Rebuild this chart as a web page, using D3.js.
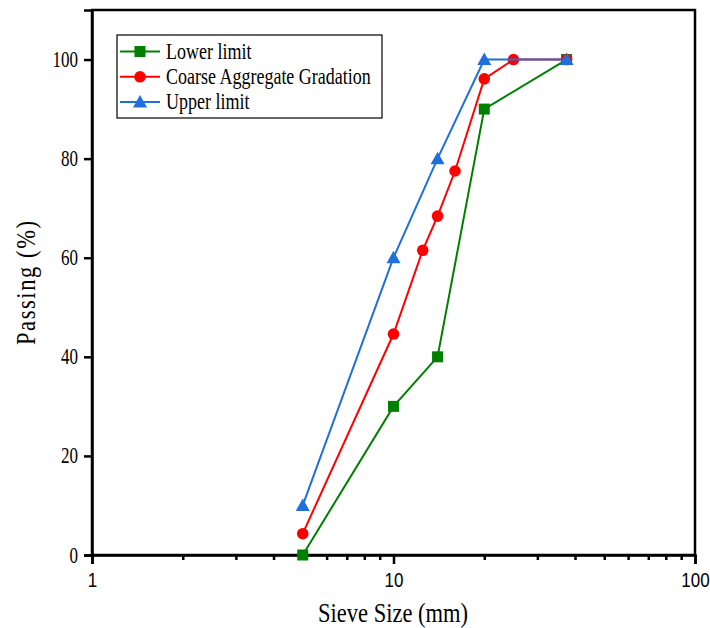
<!DOCTYPE html>
<html>
<head>
<meta charset="utf-8">
<script src="https://cdn.jsdelivr.net/npm/d3@7"></script>
<style>
  body { margin: 0; background: #fff; }
  svg text { font-family: "Liberation Serif", "Times New Roman", serif; }
</style>
</head>
<body>
<script>
// data
var lowerSizes = [5, 10, 14, 20, 37.5];
var lowerPass  = [0, 30, 40, 90, 100];
var coarseSizes = [5, 10, 12.5, 14, 16, 20, 25, 37.5];
var coarsePass  = [4.3, 44.6, 61.5, 68.4, 77.5, 96.1, 100, 100];
var upperSizes = [5, 10, 14, 20, 37.5];
var upperPass  = [10, 60, 80, 100, 100];
var xTicks = [1, 10, 100];
var yTicks = [0, 20, 40, 60, 80, 100];

var series = [
  {name: 'Lower limit', color: '#008000', shape: 'square', x: lowerSizes, y: lowerPass},
  {name: 'Coarse Aggregate Gradation', color: '#ff0000', shape: 'circle', x: coarseSizes, y: coarsePass},
  {name: 'Upper limit', color: '#1f6fdc', shape: 'triangle', x: upperSizes, y: upperPass}
];

var W = 710, H = 628;
var pLeft = 92, pRight = 695, pTop = 10, pBottom = 555;

var svg = d3.select('body').append('svg')
  .attr('width', W).attr('height', H);

var xScale = d3.scaleLog().domain([1, 100]).range([pLeft, pRight]);
var yScale = d3.scaleLinear().domain([0, 110]).range([pBottom, pTop]);

// frame
svg.append('rect')
  .attr('x', pLeft).attr('y', pTop)
  .attr('width', pRight - pLeft).attr('height', pBottom - pTop)
  .attr('fill', 'none').attr('stroke', '#000').attr('stroke-width', 2.5);

// minor x ticks
var minor = [];
[1, 10].forEach(function(d){
  for (var k = 2; k <= 9; k++) minor.push(d * k);
});
svg.append('g')
  .attr('transform', 'translate(0,' + pBottom + ')')
  .call(d3.axisBottom(xScale).tickValues(minor).tickSize(5).tickFormat(''))
  .call(function(g){ g.select('.domain').remove(); g.selectAll('line').attr('stroke-width', 2.5); });

// major x ticks (labels stretched a bit vertically like the original)
var xAxis = svg.append('g')
  .attr('transform', 'translate(0,' + pBottom + ')')
  .call(d3.axisBottom(xScale).tickValues(xTicks).tickSize(9).tickFormat(d3.format('d')));
xAxis.select('.domain').attr('stroke-width', 2.5);
xAxis.selectAll('line').attr('stroke-width', 2.5);
xAxis.selectAll('text')
  .style('font-family', '"Liberation Sans", Arial, sans-serif')
  .attr('font-size', 17).attr('fill', '#000')
  .attr('y', 0).attr('dy', null)
  .attr('transform', 'translate(0,32) scale(1,1.18)');

// y axis
var yAxis = svg.append('g')
  .attr('transform', 'translate(' + pLeft + ',0)')
  .call(d3.axisLeft(yScale).tickValues(yTicks).tickSize(8).tickPadding(6));
yAxis.select('.domain').attr('stroke-width', 2.5);
yAxis.selectAll('line').attr('stroke-width', 2.5);
yAxis.selectAll('text').attr('font-size', 17).attr('fill', '#000')
  .attr('transform', 'scale(1,1.3)');

// axis titles
svg.append('text')
  .attr('transform', 'translate(393,622) scale(1,1.2)')
  .attr('text-anchor', 'middle').attr('font-size', 22.5)
  .text('Sieve Size (mm)');
svg.append('text')
  .attr('transform', 'translate(35,283) rotate(-90) scale(1,1.2)')
  .attr('text-anchor', 'middle').attr('font-size', 22.5)
  .attr('textLength', 124).attr('lengthAdjust', 'spacing')
  .text('Passing (%)');

function drawMarker(g, shape, color, cx, cy) {
  if (shape === 'square') {
    g.append('rect').attr('x', cx - 5.5).attr('y', cy - 5.5)
      .attr('width', 11).attr('height', 11).attr('fill', color);
  } else if (shape === 'circle') {
    g.append('circle').attr('cx', cx).attr('cy', cy).attr('r', 5.8).attr('fill', color);
  } else {
    g.append('path')
      .attr('d', 'M' + cx + ',' + (cy - 7) + 'L' + (cx + 7) + ',' + (cy + 5.5) + 'L' + (cx - 7) + ',' + (cy + 5.5) + 'Z')
      .attr('fill', color);
  }
}

var line = d3.line()
  .x(function(d){ return xScale(d[0]); })
  .y(function(d){ return yScale(d[1]); });

series.forEach(function(s){
  var pts = s.x.map(function(v, i){ return [v, s.y[i]]; });
  var g = svg.append('g');
  g.append('path').datum(pts)
    .attr('d', line)
    .attr('fill', 'none').attr('stroke', s.color).attr('stroke-width', 2);
  pts.forEach(function(p){
    drawMarker(g, s.shape, s.color, xScale(p[0]), yScale(p[1]));
  });
});

// legend
var lg = svg.append('g');
lg.append('rect')
  .attr('x', 117).attr('y', 35).attr('width', 265).attr('height', 83)
  .attr('fill', '#fff').attr('stroke', '#000').attr('stroke-width', 1.2);
series.forEach(function(s, i){
  var yy = 51.5 + i * 25.3;
  lg.append('line').attr('x1', 120).attr('x2', 160).attr('y1', yy).attr('y2', yy)
    .attr('stroke', s.color).attr('stroke-width', 2);
  drawMarker(lg, s.shape, s.color, 140, yy);
  lg.append('text')
    .attr('transform', 'translate(166,' + (yy + 7.3) + ') scale(1,1.25)')
    .attr('font-size', 18).text(s.name);
});
</script>
</body>
</html>
